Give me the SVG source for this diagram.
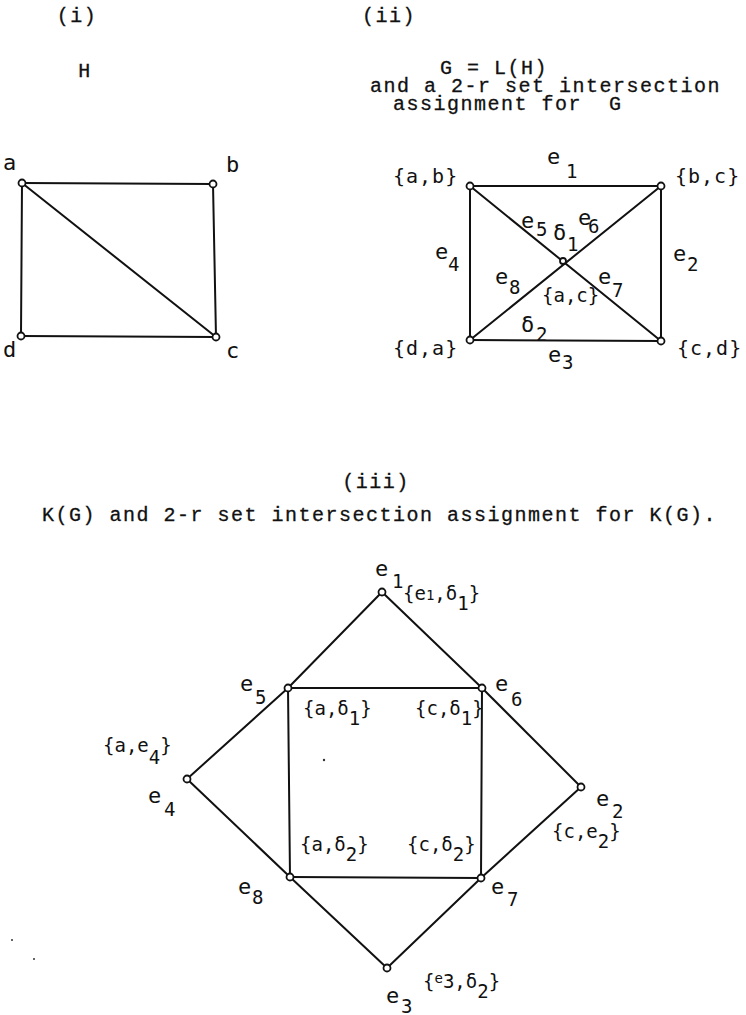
<svg xmlns="http://www.w3.org/2000/svg" width="746" height="1015" viewBox="0 0 746 1015">
<style>
.hdr{font-family:"Liberation Mono","Courier New",monospace;font-size:20px;letter-spacing:1.5px;fill:#111;stroke:#111;stroke-width:0.3}
.lbl{font-family:"DejaVu Sans Mono","Liberation Mono",monospace;font-size:22px;fill:#111}
.sub{font-size:19px}
.set2{font-family:"DejaVu Sans Mono","Liberation Mono",monospace;font-size:20px;letter-spacing:1px;fill:#111}
.set3{font-family:"DejaVu Sans Mono","Liberation Mono",monospace;font-size:19px;fill:#111}
.edge{stroke:#111;stroke-width:2;fill:none;stroke-linecap:round}
.node{fill:#fff;stroke:#111;stroke-width:1.8}
.speck{fill:#333}
</style>

<!-- headers -->
<g id="headers">
<text class="hdr" x="77" y="22" text-anchor="middle">(i)</text>
<text class="hdr" x="389" y="22" text-anchor="middle">(ii)</text>
<text class="hdr" x="85" y="77" text-anchor="middle">H</text>
<text class="hdr" x="440" y="74">G = L(H)</text>
<text class="hdr" x="370" y="92">and a 2-r set intersection</text>
<text class="hdr" x="393" y="110" xml:space="preserve">assignment for  G</text>
<text class="hdr" x="376" y="488" text-anchor="middle">(iii)</text>
<text class="hdr" x="42" y="521">K(G) and 2-r set intersection assignment for K(G).</text>
</g>

<!-- (i) graph H -->
<g id="H-edges">
<line class="edge" x1="22" y1="183" x2="213" y2="184"/>
<line class="edge" x1="213" y1="184" x2="216" y2="337"/>
<line class="edge" x1="216" y1="337" x2="21" y2="336"/>
<line class="edge" x1="21" y1="336" x2="22" y2="183"/>
<line class="edge" x1="22" y1="183" x2="216" y2="337"/>
</g>
<g id="H-a"><circle class="node" cx="22" cy="183" r="3.5"/><text class="lbl" x="3" y="170">a</text></g>
<g id="H-b"><circle class="node" cx="213" cy="184" r="3.5"/><text class="lbl" x="226" y="172">b</text></g>
<g id="H-c"><circle class="node" cx="216" cy="337" r="3.5"/><text class="lbl" x="226" y="358">c</text></g>
<g id="H-d"><circle class="node" cx="21" cy="336" r="3.5"/><text class="lbl" x="3" y="357">d</text></g>

<!-- (ii) graph G -->
<g id="G-edges">
<line class="edge" x1="470" y1="186" x2="661" y2="186"/>
<line class="edge" x1="661" y1="186" x2="661" y2="341"/>
<line class="edge" x1="661" y1="341" x2="470" y2="340"/>
<line class="edge" x1="470" y1="340" x2="470" y2="186"/>
<line class="edge" x1="470" y1="186" x2="661" y2="341"/>
<line class="edge" x1="661" y1="186" x2="470" y2="340"/>
</g>
<g id="G-ab"><circle class="node" cx="470" cy="186" r="3.5"/><text class="set2" x="393" y="183">{a,b}</text></g>
<g id="G-bc"><circle class="node" cx="661" cy="186" r="3.5"/><text class="set2" x="675" y="183">{b,c}</text></g>
<g id="G-cd"><circle class="node" cx="661" cy="341" r="3.5"/><text class="set2" x="677" y="355">{c,d}</text></g>
<g id="G-da"><circle class="node" cx="470" cy="340" r="3.5"/><text class="set2" x="393" y="355">{d,a}</text></g>
<g id="G-ac"><circle class="node" cx="563" cy="261" r="3"/><text class="set2" x="542" y="302" style="font-size:19px;letter-spacing:0">{a,c}</text></g>
<g id="G-labels">
<text class="lbl" x="547" y="164">e<tspan class="sub" x="566" y="178">1</tspan></text>
<text class="lbl" x="673" y="261">e<tspan class="sub" x="687" y="271">2</tspan></text>
<text class="lbl" x="548" y="362">e<tspan class="sub" x="562" y="369">3</tspan></text>
<text class="lbl" x="435" y="259">e<tspan class="sub" x="448" y="271">4</tspan></text>
<text class="lbl" x="521" y="228">e<tspan class="sub" x="536" y="236">5</tspan></text>
<text class="lbl" x="578" y="225">e<tspan class="sub" x="588" y="233">6</tspan></text>
<text class="lbl" x="598" y="284">e<tspan class="sub" x="612" y="297">7</tspan></text>
<text class="lbl" x="495" y="284">e<tspan class="sub" x="509" y="294">8</tspan></text>
<text class="lbl" x="553" y="240">δ<tspan class="sub" x="567" y="251">1</tspan></text>
<text class="lbl" x="521" y="332">δ<tspan class="sub" x="536" y="341">2</tspan></text>
</g>

<!-- (iii) graph K(G) -->
<g id="K-edges">
<line class="edge" x1="382" y1="592" x2="288" y2="688"/>
<line class="edge" x1="382" y1="592" x2="482" y2="688"/>
<line class="edge" x1="288" y1="688" x2="482" y2="688"/>
<line class="edge" x1="288" y1="688" x2="290" y2="877"/>
<line class="edge" x1="482" y1="688" x2="481" y2="878"/>
<line class="edge" x1="290" y1="877" x2="481" y2="878"/>
<line class="edge" x1="288" y1="688" x2="187" y2="779"/>
<line class="edge" x1="187" y1="779" x2="290" y2="877"/>
<line class="edge" x1="482" y1="688" x2="581" y2="787"/>
<line class="edge" x1="581" y1="787" x2="481" y2="878"/>
<line class="edge" x1="290" y1="877" x2="387" y2="968"/>
<line class="edge" x1="387" y1="968" x2="481" y2="878"/>
</g>
<g id="K-e1"><circle class="node" cx="382" cy="592" r="3.5"/>
<text class="lbl" x="375" y="576">e<tspan class="sub" x="392" y="588">1</tspan></text>
<text class="set3" x="403" y="600">{e<tspan style="font-size:14px">1</tspan>,δ<tspan class="sub" dy="10">1</tspan><tspan dy="-10">}</tspan></text></g>
<g id="K-e5"><circle class="node" cx="288" cy="688" r="3.5"/>
<text class="lbl" x="240" y="691">e<tspan class="sub" x="255" y="704">5</tspan></text>
<text class="set3" x="303" y="715">{a,δ<tspan class="sub" dy="10">1</tspan><tspan dy="-10">}</tspan></text></g>
<g id="K-e6"><circle class="node" cx="482" cy="688" r="3.5"/>
<text class="lbl" x="495" y="691">e<tspan class="sub" x="511" y="706">6</tspan></text>
<text class="set3" x="415" y="715">{c,δ<tspan class="sub" dy="10">1</tspan><tspan dy="-10">}</tspan></text></g>
<g id="K-e4"><circle class="node" cx="187" cy="779" r="3.5"/>
<text class="lbl" x="148" y="803">e<tspan class="sub" x="164" y="816">4</tspan></text>
<text class="set3" x="103" y="752">{a,e<tspan class="sub" dy="12">4</tspan><tspan dy="-12">}</tspan></text></g>
<g id="K-e2"><circle class="node" cx="581" cy="787" r="3.5"/>
<text class="lbl" x="596" y="806">e<tspan class="sub" x="612" y="818">2</tspan></text>
<text class="set3" x="552" y="838">{c,e<tspan class="sub" dy="10">2</tspan><tspan dy="-10">}</tspan></text></g>
<g id="K-e8"><circle class="node" cx="290" cy="877" r="3.5"/>
<text class="lbl" x="238" y="894">e<tspan class="sub" x="252" y="904">8</tspan></text>
<text class="set3" x="300" y="851">{a,δ<tspan class="sub" dy="10">2</tspan><tspan dy="-10">}</tspan></text></g>
<g id="K-e7"><circle class="node" cx="481" cy="878" r="3.5"/>
<text class="lbl" x="491" y="894">e<tspan class="sub" x="507" y="906">7</tspan></text>
<text class="set3" x="407" y="851">{c,δ<tspan class="sub" dy="10">2</tspan><tspan dy="-10">}</tspan></text></g>
<g id="K-e3"><circle class="node" cx="387" cy="968" r="3.5"/>
<text class="lbl" x="386" y="1003">e<tspan class="sub" x="401" y="1013">3</tspan></text>
<text class="set3" x="423" y="988">{<tspan style="font-size:14px" dy="-5">e</tspan><tspan dy="5">3,δ</tspan><tspan class="sub" dy="10">2</tspan><tspan dy="-10">}</tspan></text></g>

<g id="specks">
<circle class="speck" cx="324" cy="760" r="1.2"/>
<circle class="speck" cx="12" cy="940" r="1"/>
<circle class="speck" cx="34" cy="959" r="1"/>
</g>
</svg>
